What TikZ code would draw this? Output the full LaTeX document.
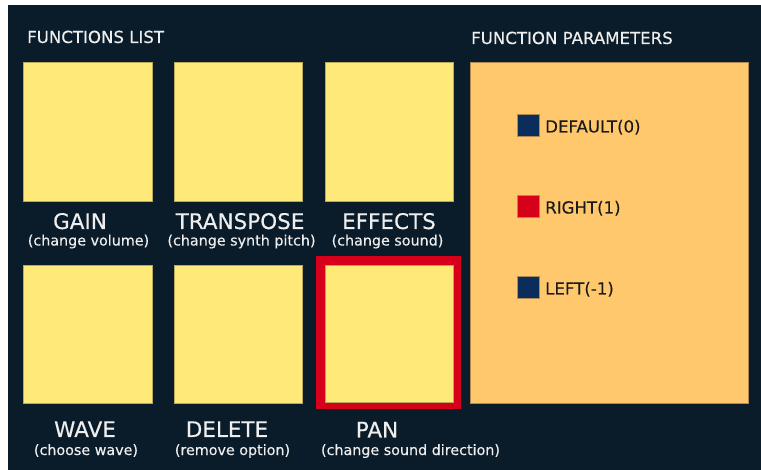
\documentclass[tikz,border=0pt]{standalone}
\usepackage{fontspec}
\setmainfont{DejaVu Sans}
\newfontfamily\labelfont{DejaVu Sans}[FakeBold=0.35]
\definecolor{bgdark}{HTML}{0A1B29}
\definecolor{padyellow}{HTML}{FFE979}
\definecolor{padedge}{HTML}{B9A95A}
\definecolor{panelorange}{HTML}{FFC86C}
\definecolor{paneledge}{HTML}{B08A50}
\definecolor{selred}{HTML}{D6001A}
\definecolor{navy}{HTML}{0A2D5C}
\definecolor{lighttext}{HTML}{EEEEEE}
\definecolor{darktext}{HTML}{1A1A1A}
\begin{document}
\begin{tikzpicture}[x=1pt,y=-1pt,
  pad/.style={fill=padyellow,draw=padedge,line width=0.8pt},
  heading/.style={anchor=base west,inner sep=0pt,text=lighttext,font=\labelfont\fontsize{16.6}{18}\selectfont},
  title/.style={anchor=base,inner sep=0pt,text=lighttext,font=\labelfont\fontsize{21.5}{24}\selectfont},
  subtitle/.style={anchor=base,inner sep=0pt,text=lighttext,font=\labelfont\fontsize{14.3}{16}\selectfont},
  legendsq/.style={minimum width=22pt,minimum height=22pt,inner sep=0pt,draw=paneledge,line width=0.5pt},
  legendtxt/.style={anchor=base west,inner sep=0pt,text=darktext,font=\labelfont\fontsize{16.6}{18}\selectfont}]
\useasboundingbox (0,0) rectangle (761,470);
\fill[white] (0,0) rectangle (761,470);
\fill[bgdark] (8,5) rectangle (761,470);
% headings
\node[heading] (hlist) at (27,43) {FUNCTIONS LIST};
\node[heading] (hparam) at (471,44) {FUNCTION PARAMETERS};
% pads row 1
\draw[pad] (23,62) rectangle (152,201);
\draw[pad] (174,62) rectangle (302,201);
\draw[pad] (325,62) rectangle (453,201);
% pads row 2
\draw[pad] (23,265) rectangle (152,403);
\draw[pad] (174,265) rectangle (302,403);
\fill[selred] (316,256) rectangle (461,409);
\draw[pad] (325,265) rectangle (453,402);
% labels row 1
\node[title] (tgain) at (80,229) {GAIN};
\node[subtitle] (sgain) at (88.5,245.5) {(change volume)};
\node[title] (ttrans) at (240,229) {TRANSPOSE};
\node[subtitle] (strans) at (241.5,245.5) {(change synth pitch)};
\node[title] (teff) at (389,229) {EFFECTS};
\node[subtitle] (seff) at (387.5,245.5) {(change sound)};
% labels row 2
\node[title] (twave) at (85,437) {WAVE};
\node[subtitle] (swave) at (86,455) {(choose wave)};
\node[title] (tdel) at (227,437) {DELETE};
\node[subtitle] (sdel) at (232.5,455) {(remove option)};
\node[title] (tpan) at (377,437.5) {PAN};
\node[subtitle] (span) at (410.5,455) {(change sound direction)};
% parameters panel
\draw[fill=panelorange,draw=paneledge,line width=0.8pt] (470,62) rectangle (748,403);
\node[legendsq,fill=navy] (sqdef) at (528,125.5) {};
\node[legendtxt] (ldef) at (545,132.5) {DEFAULT(0)};
\node[legendsq,fill=selred] (sqright) at (528,206.5) {};
\node[legendtxt] (lright) at (545,213.5) {RIGHT(1)};
\node[legendsq,fill=navy] (sqleft) at (528,287.5) {};
\node[legendtxt] (lleft) at (545,294.5) {LEFT(-1)};
\end{tikzpicture}
\end{document}
